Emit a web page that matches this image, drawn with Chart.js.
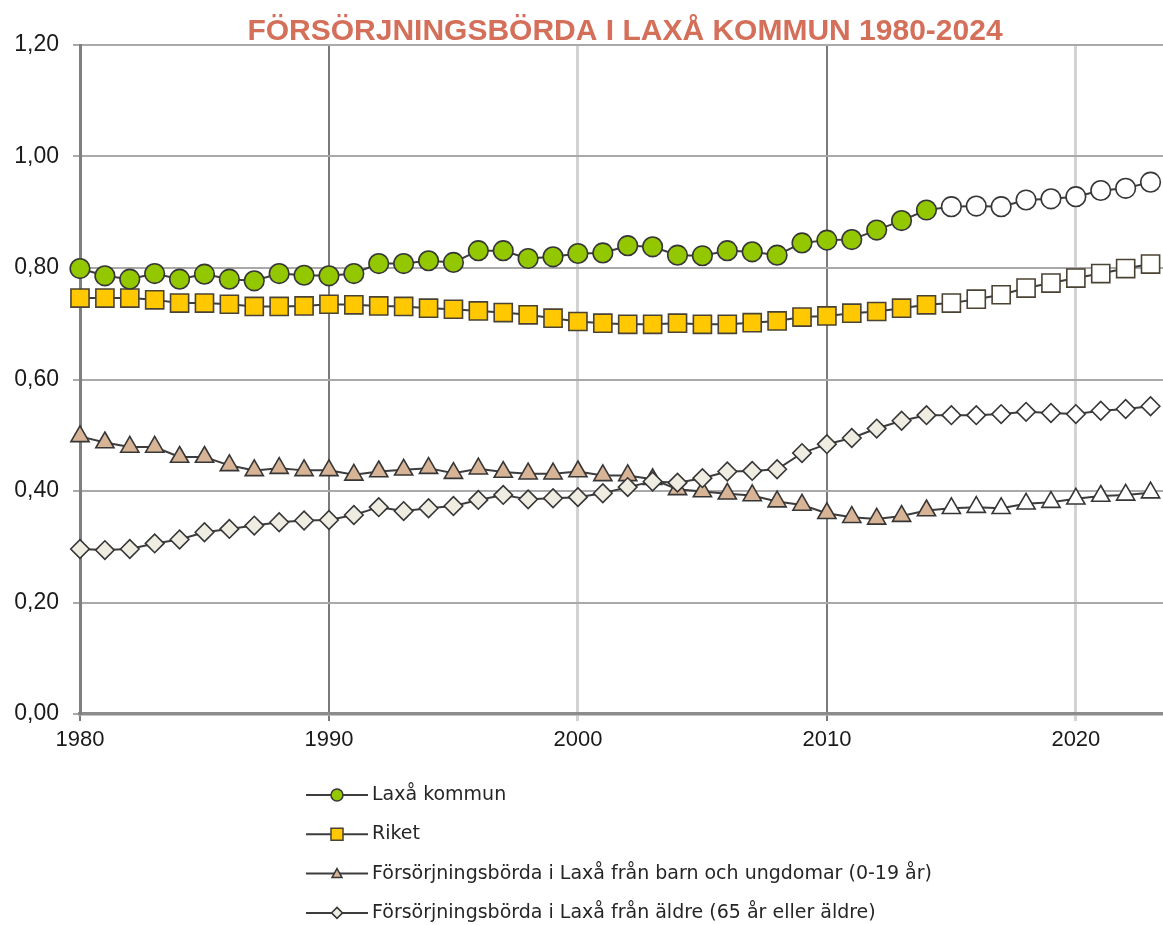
<!DOCTYPE html>
<html lang="sv">
<head>
<meta charset="utf-8">
<title>Försörjningsbörda i Laxå kommun 1980-2024</title>
<script src="https://cdn.jsdelivr.net/npm/chart.js@4.4.1/dist/chart.umd.min.js"></script>
<style>
    body { margin: 0; background: #ffffff; }
    canvas { display: block; }
</style>
</head>
<body>
<canvas id="grafica" width="1163" height="925"></canvas>
<script>
const years = [
    1980, 1981, 1982, 1983, 1984, 1985, 1986, 1987, 1988, 1989,
    1990, 1991, 1992, 1993, 1994, 1995, 1996, 1997, 1998, 1999,
    2000, 2001, 2002, 2003, 2004, 2005, 2006, 2007, 2008, 2009,
    2010, 2011, 2012, 2013, 2014, 2015, 2016, 2017, 2018, 2019,
    2020, 2021, 2022, 2023
];
const laxaKommun = [
    0.799, 0.786, 0.780, 0.790, 0.780, 0.789, 0.780, 0.777, 0.790, 0.787,
    0.786, 0.790, 0.808, 0.808, 0.813, 0.810, 0.831, 0.831, 0.817, 0.820,
    0.826, 0.827, 0.840, 0.838, 0.823, 0.822, 0.831, 0.829, 0.823, 0.845,
    0.850, 0.851, 0.868, 0.885, 0.904, 0.910, 0.911, 0.910, 0.922, 0.924,
    0.928, 0.939, 0.943, 0.954
];
const riket = [
    0.746, 0.746, 0.746, 0.743, 0.737, 0.737, 0.735, 0.731, 0.731, 0.732,
    0.735, 0.734, 0.732, 0.731, 0.728, 0.726, 0.723, 0.720, 0.716, 0.710,
    0.704, 0.701, 0.699, 0.699, 0.701, 0.699, 0.699, 0.702, 0.705, 0.712,
    0.714, 0.719, 0.722, 0.728, 0.734, 0.737, 0.744, 0.752, 0.764, 0.773,
    0.782, 0.790, 0.799, 0.807
];
const barnUngdomar = [
    0.498, 0.487, 0.479, 0.479, 0.461, 0.461, 0.446, 0.437, 0.441, 0.437,
    0.437, 0.429, 0.435, 0.438, 0.441, 0.432, 0.440, 0.434, 0.431, 0.431,
    0.435, 0.428, 0.428, 0.421, 0.403, 0.399, 0.395, 0.392, 0.381, 0.375,
    0.360, 0.353, 0.350, 0.355, 0.365, 0.369, 0.371, 0.369, 0.377, 0.380,
    0.386, 0.391, 0.393, 0.397
];
const aldre = [
    0.296, 0.294, 0.296, 0.306, 0.313, 0.326, 0.332, 0.338, 0.344, 0.347,
    0.348, 0.357, 0.371, 0.364, 0.369, 0.373, 0.384, 0.393, 0.385, 0.387,
    0.389, 0.396, 0.407, 0.417, 0.415, 0.423, 0.435, 0.436, 0.439, 0.468,
    0.484, 0.495, 0.512, 0.526, 0.536, 0.536, 0.536, 0.538, 0.542, 0.540,
    0.538, 0.544, 0.547, 0.552
];
const yTicks = [0, 0.2, 0.4, 0.6, 0.8, 1.0, 1.2];
const xTicks = [1980, 1990, 2000, 2010, 2020];
const lastOutcomeYear = 2014; // after this the markers are open (prognos)

const seriesLabels = [
    'Laxå kommun',
    'Riket',
    'Försörjningsbörda i Laxå från barn och ungdomar (0-19 år)',
    'Försörjningsbörda i Laxå från äldre (65 år eller äldre)'
];

document.addEventListener('DOMContentLoaded', () => {
    const lineColor = '#3d3d3d';

    const toPoints = values => years.map((yr, i) => ({ x: yr, y: values[i] }));
    const fills = color => years.map(yr => (yr <= lastOutcomeYear ? color : '#ffffff'));

    const serieStyles = [
        { fill: '#93c700', border: '#363636', style: 'circle', radius: 9.8 },
        { fill: '#ffc800', border: '#4a4232', style: 'rect', radius: 12.8 },
        { fill: '#d8b497', border: '#363636', style: 'triangle', radius: 10.5 },
        { fill: '#efece2', border: '#363636', style: 'rectRot', radius: 9.3 }
    ];
    const serieValues = [laxaKommun, riket, barnUngdomar, aldre];
    const drawOrder = [0, 1, 3, 2];

    const datasets = serieValues.map((values, i) => ({
        label: seriesLabels[i],
        data: toPoints(values),
        borderColor: lineColor,
        borderWidth: 2,
        tension: 0,
        clip: false,
        pointStyle: serieStyles[i].style,
        pointRadius: serieStyles[i].radius,
        pointBorderWidth: 1.6,
        pointBorderColor: serieStyles[i].border,
        pointBackgroundColor: fills(serieStyles[i].fill),
        order: drawOrder[i]
    }));

    // title + vertical legend drawn straight on the canvas
    const titleAndLegend = {
        id: 'titleAndLegend',
        afterDraw(chart) {
            const c = chart.ctx;
            c.save();
            c.fillStyle = '#d46f5a';
            c.font = 'bold 30px "Liberation Sans", Arial, sans-serif';
            c.textAlign = 'center';
            c.textBaseline = 'alphabetic';
            c.fillText('FÖRSÖRJNINGSBÖRDA I LAXÅ KOMMUN 1980-2024', 625, 40);

            const x0 = 306, x1 = 368, xm = 337;
            serieStyles.forEach((s, i) => {
                const y = 795 + i * 39.3;
                c.strokeStyle = lineColor;
                c.lineWidth = 2;
                c.beginPath();
                c.moveTo(x0, y);
                c.lineTo(x1, y);
                c.stroke();

                c.fillStyle = s.fill;
                c.strokeStyle = s.border;
                c.lineWidth = 1.5;
                c.beginPath();
                if (s.style === 'circle') {
                    c.arc(xm, y, 6, 0, Math.PI * 2);
                } else if (s.style === 'rect') {
                    c.rect(xm - 6, y - 6, 12, 12);
                } else if (s.style === 'triangle') {
                    c.moveTo(xm, y - 5);
                    c.lineTo(xm + 5, y + 4);
                    c.lineTo(xm - 5, y + 4);
                    c.closePath();
                } else {
                    c.moveTo(xm, y - 5.5);
                    c.lineTo(xm + 5.5, y);
                    c.lineTo(xm, y + 5.5);
                    c.lineTo(xm - 5.5, y);
                    c.closePath();
                }
                c.fill();
                c.stroke();

                c.fillStyle = '#262626';
                c.font = '19px "DejaVu Sans", sans-serif';
                c.textAlign = 'left';
                c.textBaseline = 'middle';
                c.fillText(seriesLabels[i], 372, y);
            });
            c.restore();
        }
    };

    const ctx = document.getElementById('grafica').getContext('2d');
    new Chart(ctx, {
        type: 'line',
        data: { datasets: datasets },
        options: {
            responsive: false,
            animation: false,
            devicePixelRatio: 1,
            layout: { autoPadding: false, padding: { top: 45, right: 0, bottom: 0, left: 0 } },
            plugins: {
                legend: { display: false },
                title: { display: false },
                tooltip: { enabled: false }
            },
            scales: {
                x: {
                    type: 'linear',
                    min: 1980,
                    max: 2023.5,
                    afterFit: scale => { scale.height = 211; },
                    afterBuildTicks: scale => { scale.ticks = xTicks.map(v => ({ value: v })); },
                    ticks: {
                        callback: v => String(v),
                        font: { family: 'Liberation Sans', size: 22 },
                        color: '#1a1a1a',
                        padding: 6,
                        maxRotation: 0
                    },
                    grid: {
                        color: c => {
                            const v = c.tick ? c.tick.value : 0;
                            return (v === 2000 || v === 2020) ? '#d3d3d3' : '#7a7a7a';
                        },
                        lineWidth: c => {
                            const v = c.tick ? c.tick.value : 0;
                            return (v === 2000 || v === 2020) ? 3 : 2;
                        },
                        tickLength: 7
                    },
                    border: { color: '#8c8c8c', width: 3.5 }
                },
                y: {
                    min: 0,
                    max: 1.2,
                    afterFit: scale => { scale.width = 80; },
                    afterBuildTicks: scale => { scale.ticks = yTicks.map(v => ({ value: v })); },
                    ticks: {
                        callback: v => Number(v).toFixed(2).replace('.', ','),
                        font: { family: 'Liberation Sans', size: 23 },
                        color: '#1a1a1a',
                        padding: 14
                    },
                    grid: { color: '#a9a9a9', lineWidth: 2, tickLength: 7 },
                    border: { color: '#7f7f7f', width: 3 }
                }
            }
        },
        plugins: [titleAndLegend]
    });
});
</script>
</body>
</html>
